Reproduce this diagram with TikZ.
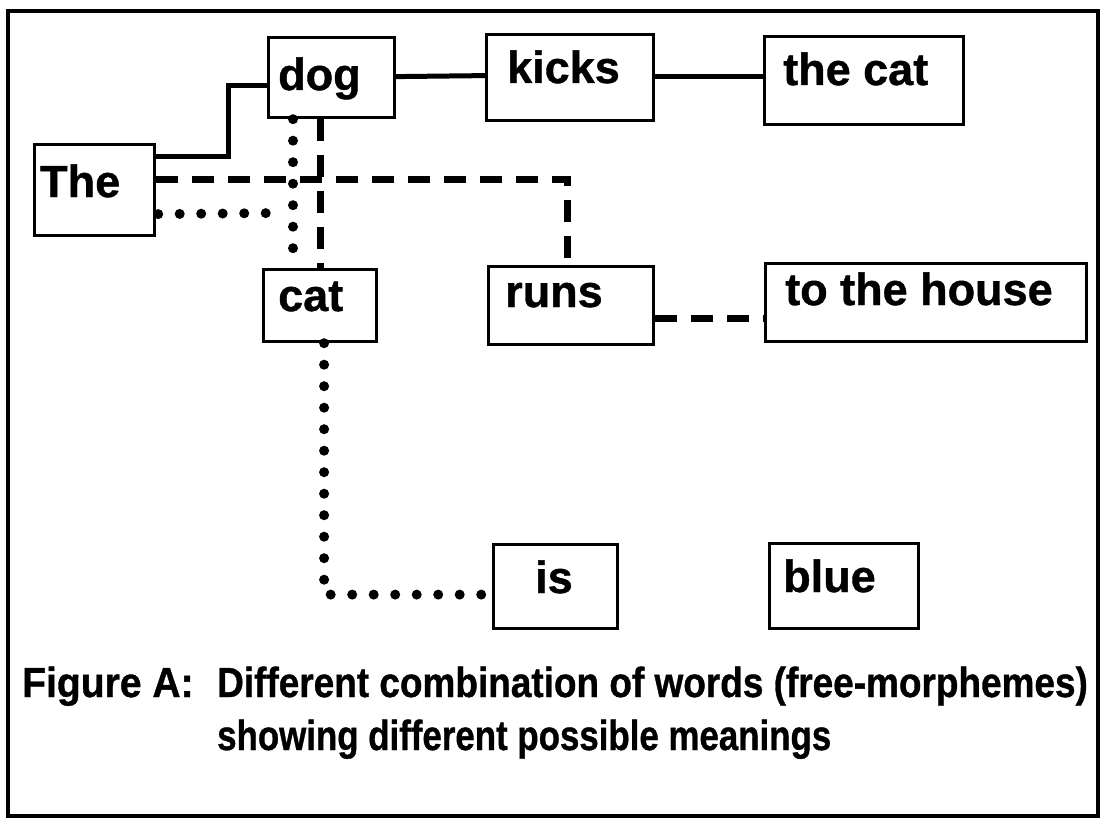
\documentclass[tikz,border=0pt]{standalone}
\usepackage{fontspec}
\setmainfont[BoldFeatures={FakeBold=0.9}]{Liberation Sans}
\usetikzlibrary{calc}
\begin{document}
\begin{tikzpicture}[x=1pt,y=-1pt,
  wordbox/.style={draw,line width=3.2pt,rectangle,anchor=north west,inner sep=0pt},
  word/.style={anchor=base west,inner sep=0pt,font=\fontsize{45}{54}\selectfont\bfseries},
  capt/.style={anchor=base west,inner sep=0pt,font=\fontsize{42}{50}\selectfont\bfseries},
  solidc/.style={line width=5pt},
  dashc/.style={line width=7pt,dash pattern=on 22pt off 14pt},
  dotc/.style={line width=10pt,line cap=round,dash pattern=on 0pt off 21.5pt}]
\useasboundingbox (0,0) rectangle (1103,824);
% outer frame
\draw[line width=3.2pt] (8,11) rectangle (1098,816);

% word boxes
\node[wordbox,minimum width=120pt,minimum height=91pt] (the)    at (33,143)  {};
\node[wordbox,minimum width=126pt,minimum height=80pt] (dog)    at (267,36)  {};
\node[wordbox,minimum width=167pt,minimum height=86pt] (kicks)  at (485,33)  {};
\node[wordbox,minimum width=199pt,minimum height=88pt] (thecat) at (763,35)  {};
\node[wordbox,minimum width=113pt,minimum height=72pt] (cat)    at (262,268) {};
\node[wordbox,minimum width=165pt,minimum height=78pt] (runs)   at (487,265) {};
\node[wordbox,minimum width=321pt,minimum height=78pt] (house)  at (764,262) {};
\node[wordbox,minimum width=124pt,minimum height=84pt] (is)     at (492,543) {};
\node[wordbox,minimum width=149pt,minimum height=85pt] (blue)   at (768,542) {};

% words
\node[word] (tThe)    at (40,197)  {The};
\node[word] (tdog)    at (278,90)  {dog};
\node[word] (tkicks)  at (507,83)  {kicks};
\node[word] (tthecat) at (783,85)  {the cat};
\node[word] (tcat)    at (278,311) {cat};
\node[word] (truns)   at (505,307) {runs};
\node[word] (thouse)  at (785,305) {to the house};
\node[word] (tis)     at (535,593) {is};
\node[word] (tblue)   at (783,592) {blue};

% solid links
\draw[solidc] ($(the.north east)+(0,14)$) -| ($(dog.west)+(-39,8)$) -- ($(dog.west)+(0,8)$);
\draw[solidc] ($(dog.east)+(0,-1)$) -- ($(kicks.west)+(0,-2)$);
\draw[solidc] ($(kicks.east)+(0,-1)$) -- ($(thecat.west)+(0,-4)$);

% dashed links
\coordinate (rn) at ($(runs.north)+(-4,0)$);
\draw[dashc] ($(the.east)+(0,-11)$) -| (rn);
\draw[dashc] (cat.north |- dog.south) -- (cat.north);
\draw[dashc] ($(runs.east)+(0,13)$) -- ($(house.west)+(0,16)$);

% dotted links
\coordinate (cd) at ($(cat.north west)+(31,0)$);
\draw[dotc] (cd |- dog.south) -- (cd);
\draw[dotc] ($(the.east)+(2,24)$) -- ($(cd)+(-12,-55)$);
\coordinate (iw) at ($(is.west)+(-10,8)$);
\coordinate (cs) at ($(cat.south)+(4,0)$);
\draw[dotc] (cs) -- (cs |- iw) -- (iw);

% caption
\node[capt] (figA) at (22,697) {\scalebox{0.93}[1]{Figure A:}};
\node[capt] (cap1) at (217,697) {\scalebox{0.88}[1]{Different combination of words (free-morphemes)}};
\node[capt] (cap2) at (217,750) {\scalebox{0.83}[1]{showing different possible meanings}};
\end{tikzpicture}
\end{document}
